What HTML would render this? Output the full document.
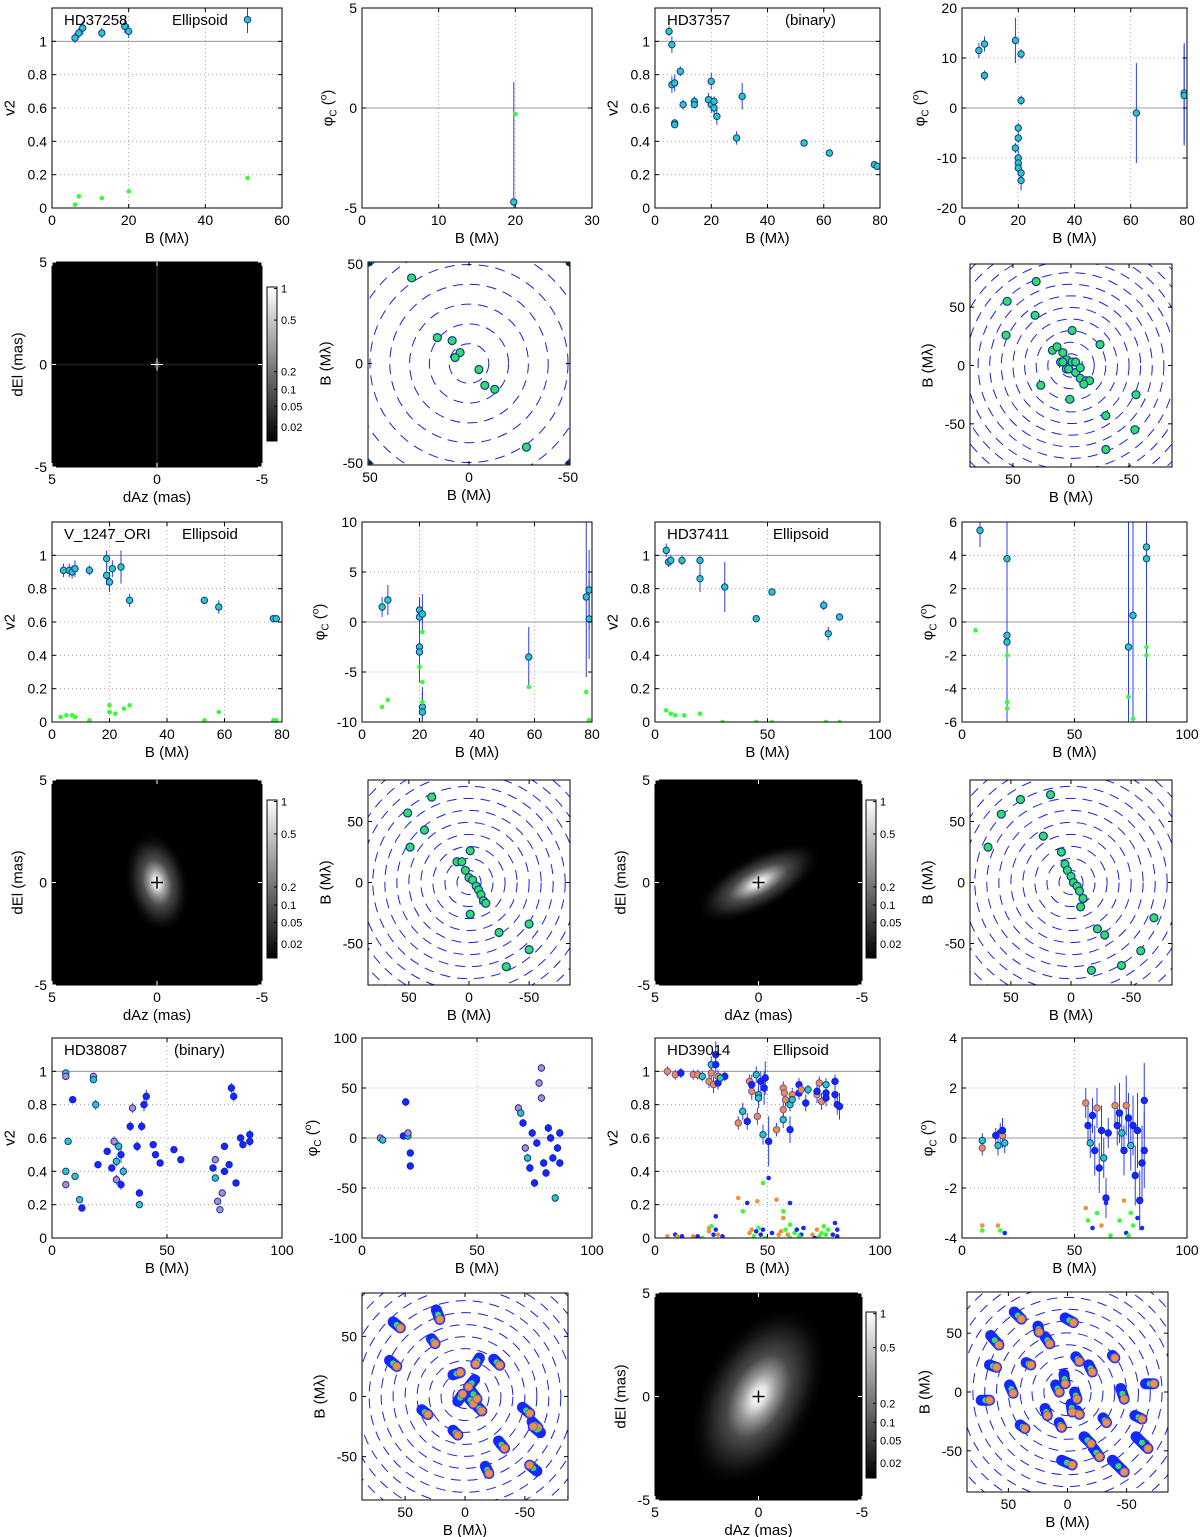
<!DOCTYPE html>
<html><head><meta charset="utf-8"><title>Interferometry panels</title>
<style>
html,body{margin:0;padding:0;background:#fff;}
svg{display:block;font-family:"Liberation Sans",sans-serif;}
</style></head>
<body>
<svg id="fig" width="1200" height="1537" viewBox="0 0 1200 1537" xmlns="http://www.w3.org/2000/svg">
<defs id="defs"></defs>
</svg>
<script>
// ---------- DATA ----------
const hd37258V2 = [[6,1.02,0.03],[7,1.05,0.03],[8,1.08,0.04],[13,1.05,0.03],[19,1.09,0.04],[20,1.06,0.04],[51,1.13,0.08]];
const hd37258V2Low = [[6,0.02],[7,0.07],[13,0.06],[20,0.1],[51,0.18]];
const hd37258Phi = [[19.8,-4.7,6]];
const hd37258PhiLow = [[20,-0.3]];
const hd37258Uv = [[29,43],[16,13],[8.5,11.5],[4.5,5.5],[7,3],[-5,-3],[-8,-11],[-13,-13],[-29,-42],[51,51],[-51,51],[51,-51],[-51,-51]];

const hd37357V2 = [[5,1.06,0.03],[6,0.98,0.05],[6,0.74,0.05],[7,0.75,0.05],[7,0.51,0.02],[7,0.5,0.02],[9,0.82,0.03],[10,0.62,0.03],[14,0.64,0.03],[14,0.62,0.02],[19,0.65,0.04],[20,0.76,0.05],[20,0.62,0.05],[21,0.6,0.05],[21,0.64,0.03],[22,0.55,0.05],[29,0.42,0.04],[31,0.67,0.08],[53,0.39,0.02],[62,0.33,0.02],[78,0.26,0.02],[79,0.25,0.02]];
const hd37357Phi = [[6,11.5,1.5],[8,12.8,1.5],[8,6.5,1],[19,13.5,4.5],[21,10.8,1],[21,1.5,1],[20,-4,1],[20,-6,1],[19,-8,1],[20,-10,1.5],[20,-11,1.5],[20,-12,1.5],[21,-13,2],[21,-14.5,2],[62,-1,10],[79,3,10],[79,2.5,10]];
const hd37357Uv = [[30,72],[55,55],[31,43],[56,26],[-1,30],[-25,18],[26,-17],[1,-29],[-30,-43],[-56,-25],[-55,-55],[-30,-72],[16,13],[12,16],[7,11],[4,5],[9,3],[7,3],[-1,3],[-4,3],[4,-3],[2,-3],[-4,-6],[-8,-2],[-8,-11],[-13,-13],[-16,-13],[-11,-16]];

const v1247V2 = [[4,0.91,0.04],[6,0.91,0.04],[7,0.9,0.04],[8,0.92,0.05],[13,0.91,0.03],[19,0.98,0.05],[19,0.88,0.06],[20,0.84,0.06],[21,0.92,0.05],[24,0.93,0.1],[27,0.73,0.04],[53,0.73,0.02],[58,0.69,0.04],[77,0.62,0.02],[78,0.62,0.02]];
const v1247V2Low = [[3,0.03],[5,0.04],[7,0.04],[8,0.03],[13,0.01],[20,0.1],[20,0.06],[22,0.05],[25,0.08],[27,0.1],[53,0.01],[58,0.06],[77,0.01],[78,0.01]];
const v1247Phi = [[7,1.5,1],[9,2.2,1.5],[20,1.2,1],[20,0.5,2],[20,-2.5,3],[20,-3,3],[21,0.8,2],[21,-8.5,2],[21,-9,2],[58,-3.5,3],[78,2.5,8],[79,3.2,4],[79,0.3,4]];
const v1247PhiLow = [[7,-8.5],[9,-7.8],[20,-4.5],[21,-1],[21,-6],[21,-8],[58,-6.5],[78,-7],[79,-9.8]];
const v1247Uv = [[51,57],[31,70],[37,43],[49,29],[-1,26],[10,17],[6,17],[3,10],[0,4],[-3,2],[-6,-3],[-8,-6],[-10,-10],[-12,-15],[-14,-17],[-1,-26],[-50,-34],[-50,-55],[-31,-69],[-25,-41]];

const hd37411V2 = [[5,1.03,0.04],[6,0.96,0.03],[7,0.97,0.03],[12,0.97,0.03],[20,0.97,0.03],[20,0.86,0.08],[31,0.81,0.15],[45,0.62,0.02],[52,0.78,0.02],[75,0.7,0.03],[77,0.53,0.04],[82,0.63,0.02]];
const hd37411V2Low = [[5,0.07],[7,0.05],[9,0.04],[13,0.04],[20,0.05],[30,0],[45,0],[52,0],[76,0],[82,0]];
const hd37411Phi = [[8,5.5,1],[20,3.8,10],[20,-0.8,5],[20,-1.2,5],[74,-1.5,8],[76,0.4,8],[82,4.5,10],[82,3.8,10]];
const hd37411PhiLow = [[6,-0.5],[20,-2],[20,-4.8],[20,-5.2],[74,-4.5],[76,-5.8],[82,-1.5],[82,-2]];
const hd37411Uv = [[69,29],[42,68],[17,72],[58,56],[23,38],[8,25],[5,15],[3,10],[0,5],[-2,0],[-5,-3],[-7,-7],[-10,-13],[-8,-20],[-28,-43],[-69,-29],[-42,-68],[-17,-72],[-58,-56],[-22,-38]];

const hd38087V2 = [[6,0.99,0.02,0],[6,0.97,0.02,1],[6,0.4,0.02,0],[6,0.32,0.02,1],[7,0.58,0.02,0],[9,0.83,0.02,2],[10,0.37,0.02,0],[12,0.23,0.02,0],[13,0.18,0.02,2],[18,0.97,0.02,1],[18,0.95,0.02,0],[19,0.8,0.03,0],[20,0.44,0.02,2],[24,0.52,0.02,2],[26,0.42,0.02,2],[27,0.58,0.03,1],[28,0.35,0.03,1],[28,0.46,0.03,0],[29,0.55,0.03,0],[30,0.5,0.05,2],[30,0.32,0.03,2],[31,0.4,0.03,0],[34,0.67,0.03,2],[35,0.78,0.03,1],[37,0.55,0.03,2],[38,0.27,0.02,2],[38,0.2,0.02,0],[39,0.67,0.03,2],[40,0.8,0.04,2],[41,0.85,0.04,2],[44,0.56,0.02,2],[45,0.5,0.02,2],[47,0.45,0.02,2],[53,0.53,0.02,2],[56,0.47,0.02,2],[70,0.42,0.02,2],[71,0.47,0.02,1],[71,0.36,0.02,0],[72,0.22,0.02,1],[73,0.17,0.02,1],[74,0.27,0.02,1],[75,0.4,0.02,2],[75,0.55,0.02,2],[77,0.44,0.02,2],[78,0.9,0.03,2],[79,0.85,0.03,2],[80,0.33,0.02,2],[82,0.6,0.02,2],[83,0.56,0.02,2],[86,0.62,0.03,2],[86,0.58,0.03,2]];
const hd38087Phi = [[8,0,2,1],[9,-2,2,0],[18,2,3,2],[19,36,4,2],[20,2,3,0],[21,-15,3,2],[21,-28,3,2],[20,5,3,1],[68,30,4,1],[69,25,4,0],[70,15,4,2],[71,-10,4,1],[72,-20,4,0],[73,-30,4,2],[74,5,4,2],[75,-45,4,2],[76,-5,4,2],[77,55,4,1],[78,70,4,1],[78,40,4,1],[79,-25,4,2],[80,-35,4,2],[81,10,4,2],[82,0,4,2],[83,-20,4,2],[84,-60,4,0],[85,-10,4,2],[86,-25,4,2],[86,5,4,2]];
const hd38087Uv = [[60,62,54,57],[63,30,57,25],[28,48,25,44],[24,72,21,64],[36,-11,31,-15],[10,18,4,20],[10,-28,6,-32],[-8,14,-3,8],[-2,0,-7,-6],[-10,-8,-14,-12],[-4,6,-10,-2],[-24,31,-29,26],[-12,32,-9,27],[-28,-37,-33,-43],[-17,-58,-20,-64],[-48,-9,-54,-14],[-56,-21,-61,-26],[6,-4,2,2],[-60,-62,-54,-57],[-63,-30,-57,-25]];

const hd39014V2 = [[5.5,1.0,0.03,1],[9,0.98,0.03,1],[11.5,0.99,0.03,2],[17,0.98,0.03,1],[19,0.98,0.03,1],[21,0.97,0.03,0],[24,0.94,0.04,1],[25,0.99,0.05,1],[25,1.04,0.05,0],[26,0.92,0.05,1],[27,1.1,0.08,2],[27,1.04,0.05,2],[28,0.93,0.04,2],[28,0.97,0.04,1],[31,0.97,0.03,2],[29,0.96,0.03,0],[37,0.69,0.04,1],[39,0.76,0.05,0],[41,0.70,0.05,2],[42,0.94,0.04,1],[43,0.88,0.05,1],[43,0.92,0.06,2],[45,0.98,0.05,0],[45.5,0.73,0.05,1],[46,0.86,0.06,0],[46,0.84,0.06,0],[47,0.94,0.06,2],[48,0.62,0.06,0],[48.5,0.9,0.1,2],[49,0.96,0.1,2],[50.5,0.58,0.15,2],[54,0.65,0.04,1],[57,0.71,0.05,0],[57,0.77,0.05,1],[57,0.9,0.04,1],[57.5,0.87,0.04,1],[58,0.83,0.04,1],[60,0.65,0.08,2],[60,0.8,0.04,0],[61,0.86,0.04,1],[61,0.83,0.04,0],[64,0.92,0.04,2],[64,0.87,0.04,2],[65,0.89,0.04,1],[68,0.89,0.03,0],[67,0.81,0.05,2],[73,0.93,0.04,1],[72,0.86,0.05,1],[74,0.82,0.05,1],[76,0.92,0.04,0],[76,0.87,0.05,2],[76,0.84,0.05,2],[80,0.94,0.04,2],[80,0.86,0.05,2],[81,0.8,0.06,2],[82,0.79,0.08,2],[72,0.88,0.05,2]];
const hd39014V2Low = [[37,0.24,0],[39,0.16,1],[41,0.21,2],[45.5,0.22,0],[48,0.33,1],[50.5,0.36,2],[54,0.23,0],[57,0.16,1],[57,0.12,0],[60,0.21,2],[60,0.08,1],[27,0.13,2],[5.5,0.01,0],[9,0.02,2],[10,0.01,0],[12,0.01,2],[17,0.01,0],[19,0.01,2],[21,0,1],[24,0.04,0],[24,0.06,0],[25,0.07,1],[26,0.02,2],[27,0.05,2],[28,0.02,0],[30,0.01,2],[42,0.03,0],[43,0.05,0],[44,0.01,1],[45,0.04,2],[46,0.06,1],[47,0.02,2],[48,0.05,2],[49,0,1],[52,0.03,2],[55,0.02,0],[56,0.04,0],[58,0.05,1],[59,0.02,0],[62,0.03,1],[63,0.05,2],[65,0.02,2],[66,0.06,2],[70,0.02,0],[72,0.05,0],[73,0.01,1],[74,0.03,1],[76,0.02,1],[77,0.05,1],[79,0.02,2],[80,0.09,2],[81,0.05,2],[81,0.01,2],[71,0,2],[75,0.07,1],[60,0,1],[64,0.01,1]];
const hd39014Phi = [[9,-0.1,0.3,0],[9,-0.4,0.3,1],[15,0.1,0.3,2],[16,-0.3,0.4,0],[17,0.2,0.4,2],[18,0.1,0.5,1],[18,0.3,0.5,2],[19,-0.2,0.4,0],[55,1.4,0.6,1],[56,0.5,0.8,2],[57,-0.2,0.6,0],[58,0.9,0.7,2],[59,-0.5,1,2],[60,1.2,0.8,1],[61,-1.2,1,2],[62,0.3,1,2],[63,-0.8,0.8,0],[64,-2.4,0.8,2],[65,0.2,0.6,2],[68,1.3,0.8,1],[69,0.5,0.8,2],[70,1.0,1.2,2],[71,0.2,0.8,0],[72,-0.5,1,2],[73,1.3,1.2,1],[74,0.8,1,2],[75,-0.3,1,0],[76,0.5,1.2,2],[77,-1.5,1.2,2],[78,0.3,1.5,2],[79,-2.5,1.2,2],[80,-1,1.5,2],[81,1.5,1.5,2],[81,-0.5,1.5,2]];
const hd39014PhiLow = [[9,-3.5,0],[9,-3.7,1],[16,-3.5,0],[17,-3.7,1],[19,-3.8,2],[55,-2.8,0],[56,-3.3,1],[58,-3.6,2],[60,-3,1],[62,-3.5,0],[64,-2.6,2],[70,-3.3,1],[72,-2.5,0],[73,-3.8,2],[75,-3,1],[76,-3.5,1],[78,-3.2,2],[80,-3.6,2],[74,-3.9,1],[66,-3.9,1]];
const hd39014Uv = [[45,68,39,62],[65,48,58,40],[2,63,-5,59],[19,47,15,41],[25,56,24,51],[49,6,46,-1],[73,-7,66,-7],[66,23,60,21],[35,25,31,23],[40,-28,36,-31],[19,-14,17,-20],[7,-26,5,-30],[10,6,7,0],[3,15,2,7],[-6,0,-8,-6],[-3,-10,-4,-17],[-8,-16,-10,-19],[-7,30,-10,26],[-18,23,-21,17],[-14,-38,-20,-44],[-22,-48,-27,-55],[5,-58,-4,-62],[-38,31,-40,29],[-30,-22,-33,-26],[-45,3,-48,-6],[-66,7,-73,7],[-57,-20,-63,-23],[-58,-38,-68,-48],[-38,-58,-48,-68]];

const cbTicks = [1,0.5,0.2,0.1,0.05,0.02];
const cbTickFrac = [0.01,0.215,0.55,0.665,0.775,0.91];

// ---------- HELPERS ----------
const NS='http://www.w3.org/2000/svg';
const svg=document.getElementById('fig');
const defs=document.getElementById('defs');
let uid=0;
function mk(tag,name,attrs,parent){
  const e=document.createElementNS(NS,tag);
  
  
  for(const k in attrs) e.setAttribute(k,attrs[k]);
  (parent||svg).appendChild(e);
  return e;
}
function txt(name,x,y,s,anchor,parent,size){
  const t=mk('text',name,{x:x,y:y,'text-anchor':anchor||'middle','font-size':size||14,fill:'#000'},parent);
  t.textContent=s; return t;
}
const FILL={cyan:'#2cc8bc',green:'#33dd66',purple:'#b48ad0',orange:'#ec9240',blue:'#1428ff'};
const EDGE='#103a9a';

function axes(name,b,xl,yl,xt,yt,o){
  o=o||{};
  const g=mk('g',name,{});
  const sx=v=>b.x0+(v-xl[0])/(xl[1]-xl[0])*(b.x1-b.x0);
  const sy=v=>b.y1-(v-yl[0])/(yl[1]-yl[0])*(b.y1-b.y0);
  mk('rect','plot-area',{x:b.x0,y:b.y0,width:b.x1-b.x0,height:b.y1-b.y0,fill:o.bg||'#fff'},g);
  const cid='c'+(uid++);
  const cp=mk('clipPath','clip',{id:cid},defs);
  mk('rect','clip-rect',{x:b.x0,y:b.y0,width:b.x1-b.x0,height:b.y1-b.y0},cp);
  if(o.grid){
    xt.forEach(v=>{const x=sx(v); if(Math.abs(x-b.x0)>1&&Math.abs(x-b.x1)>1) mk('line','grid-x',{x1:x,x2:x,y1:b.y0,y2:b.y1,stroke:'#999','stroke-width':0.8,'stroke-dasharray':'1,3'},g);});
    yt.forEach(v=>{const y=sy(v); if(Math.abs(y-b.y0)>1&&Math.abs(y-b.y1)>1) mk('line','grid-y',{x1:b.x0,x2:b.x1,y1:y,y2:y,stroke:'#999','stroke-width':0.8,'stroke-dasharray':'1,3'},g);});
  }
  if(o.ref!==undefined) mk('line','reference-line',{x1:b.x0,x2:b.x1,y1:sy(o.ref),y2:sy(o.ref),stroke:'#999','stroke-width':1},g);
  const data=mk('g','data',{'clip-path':'url(#'+cid+')'},g);
  const front=mk('g','frame',{},g);
  mk('rect','axes-box',{x:b.x0,y:b.y0,width:b.x1-b.x0,height:b.y1-b.y0,fill:'none',stroke:'#000','stroke-width':1},front);
  const tc=o.tickColor||'#000';
  xt.forEach(v=>{const x=sx(v);
    mk('line','x-tick',{x1:x,x2:x,y1:b.y1,y2:b.y1-4,stroke:tc},front);
    mk('line','x-tick',{x1:x,x2:x,y1:b.y0,y2:b.y0+4,stroke:tc},front);
    txt('x-tick-label',x,b.y1+17,String(v),'middle',front);});
  let maxw=0;
  yt.forEach(v=>{const y=sy(v);
    mk('line','y-tick',{x1:b.x0,x2:b.x0+4,y1:y,y2:y,stroke:tc},front);
    mk('line','y-tick',{x1:b.x1,x2:b.x1-4,y1:y,y2:y,stroke:tc},front);
    const s=String(v); maxw=Math.max(maxw,s.length*7.8);
    txt('y-tick-label',b.x0-5,y+5,s,'end',front);});
  txt('x-axis-title',(b.x0+b.x1)/2,b.y1+35,o.xlabel||'B (Mλ)','middle',front,15);
  const yx=b.x0-maxw-14, yy=(b.y0+b.y1)/2;
  const t=mk('text','y-axis-title',{x:yx,y:yy,'text-anchor':'middle','font-size':15,transform:'rotate(-90 '+yx+' '+yy+')'},front);
  if(o.ylabel==='phi'){
    const a=mk('tspan','phi-symbol',{},t); a.textContent='φ';
    const s1=mk('tspan','phi-subscript',{'font-size':10,dy:4},t); s1.textContent='C';
    const s2=mk('tspan','phi-paren',{dy:-4},t); s2.textContent=' (';
    const s3=mk('tspan','phi-degree',{'font-size':10,dy:-6},t); s3.textContent='o';
    const s4=mk('tspan','phi-paren-close',{dy:6},t); s4.textContent=')';
  } else t.textContent=o.ylabel||'v2';
  if(o.title){
    txt('star-name',b.x0+12,b.y0+17,o.title,'start',front,15);
    txt('model-name',b.x0+o.modelX,b.y0+17,o.model,'start',front,15);
  }
  return {g:data,sx,sy,b};
}
function errPts(ax,arr,name,fillFn){
  arr.forEach(p=>{
    mk('line',name+'-errorbar',{x1:ax.sx(p[0]),x2:ax.sx(p[0]),y1:ax.sy(p[1]-p[2]),y2:ax.sy(p[1]+p[2]),stroke:'#2a3cf0','stroke-width':1},ax.g);});
  arr.forEach(p=>{
    const f=fillFn?fillFn(p):FILL.cyan;
    mk('circle',name+'-point',{cx:ax.sx(p[0]),cy:ax.sy(p[1]),r:3.2,fill:f,stroke:f===FILL.blue?'#1020d0':(f===FILL.orange?'#7a50a8':EDGE),'stroke-width':1},ax.g);});
}
function dots(ax,arr,name,colFn){
  arr.forEach(p=>{mk('circle',name,{cx:ax.sx(p[0]),cy:ax.sy(p[1]),r:2.3,fill:colFn?colFn(p):'#33ff33'},ax.g);});
}
function uvRings(ax,lim){
  const cx=ax.sx(0),cy=ax.sy(0),k=Math.abs(ax.sx(10)-cx);
  for(let r=1;r<=13;r++) mk('circle','uv-ring',{cx:cx,cy:cy,r:r*k,fill:'none',stroke:'#1a22d8','stroke-width':1,'stroke-dasharray':'10,7'},ax.g);
}
function uvAxes(name,b,lim,ticks){
  const ax=axes(name,b,[lim,-lim],[-lim,lim],ticks,ticks,{ylabel:'B (Mλ)'});
  uvRings(ax,lim); return ax;
}
function uvPts(ax,arr,name){
  arr.forEach(p=>mk('circle',name,{cx:ax.sx(p[0]),cy:ax.sy(p[1]),r:4,fill:FILL.green,stroke:EDGE,'stroke-width':1.2},ax.g));
}
function uvTracks(ax,arr,name){
  arr.forEach(p=>mk('line',name+'-track',{x1:ax.sx(p[0]),y1:ax.sy(p[1]),x2:ax.sx(p[2]),y2:ax.sy(p[3]),stroke:'#1428ff','stroke-width':11,'stroke-linecap':'round'},ax.g));
  arr.forEach(p=>{
    mk('circle',name+'-green',{cx:ax.sx((p[0]+p[2])/2),cy:ax.sy((p[1]+p[3])/2),r:3,fill:FILL.green},ax.g);
    mk('circle',name+'-orange',{cx:ax.sx(p[2]),cy:ax.sy(p[3]),r:4,fill:FILL.orange,stroke:'#8a60b0','stroke-width':1},ax.g);});
}
function imagePanel(name,b,cb,blob){
  const ax=axes(name,b,[5,-5],[-5,5],[5,0,-5],[5,0,-5],{bg:'#000',xlabel:'dAz (mas)',ylabel:'dEl (mas)',tickColor:'#fff'});
  const gid='g'+(uid++);
  const cx=ax.sx(0),cy=ax.sy(0);
  const rg=mk('radialGradient','blob-gradient',{id:gid,cx:0,cy:0,r:1,gradientUnits:'userSpaceOnUse',gradientTransform:'translate('+cx+' '+cy+') rotate('+blob.rot+') scale('+blob.rx+' '+blob.ry+')'},defs);
  [[0,'#fff',1],[0.1,'#e8e8e8',1],[0.25,'#9a9a9a',1],[0.45,'#4a4a4a',1],[0.7,'#1e1e1e',1],[1,'#000',0]].forEach(s=>mk('stop','gradient-stop',{offset:s[0],'stop-color':s[1],'stop-opacity':s[2]},rg));
  mk('rect','brightness-map',{x:b.x0,y:b.y0,width:b.x1-b.x0,height:b.y1-b.y0,fill:'url(#'+gid+')'},ax.g);
  if(blob.cross){
    mk('line','psf-streak',{x1:cx,x2:cx,y1:b.y0,y2:b.y1,stroke:'#181818','stroke-width':2},ax.g);
    mk('line','psf-streak',{x1:b.x0,x2:b.x1,y1:cy,y2:cy,stroke:'#181818','stroke-width':2},ax.g);
  }
  mk('line','center-cross',{x1:cx-6,x2:cx+6,y1:cy,y2:cy,stroke:'#000','stroke-width':1.5},ax.g);
  mk('line','center-cross',{x1:cx,x2:cx,y1:cy-6,y2:cy+6,stroke:'#000','stroke-width':1.5},ax.g);
  if(blob.cross){
    mk('line','center-cross',{x1:cx-6,x2:cx+6,y1:cy,y2:cy,stroke:'#fff','stroke-width':1},ax.g);
    mk('line','center-cross',{x1:cx,x2:cx,y1:cy-6,y2:cy+6,stroke:'#fff','stroke-width':1},ax.g);
  }
  const lid='l'+(uid++);
  const lg=mk('linearGradient','colorbar-gradient',{id:lid,x1:0,y1:0,x2:0,y2:1},defs);
  mk('stop','gradient-stop',{offset:0,'stop-color':'#fff'},lg);
  mk('stop','gradient-stop',{offset:1,'stop-color':'#000'},lg);
  const cg=mk('g','colorbar',{});
  mk('rect','colorbar-fill',{x:cb.x,y:cb.y0,width:10,height:cb.y1-cb.y0,fill:'url(#'+lid+')',stroke:'#000','stroke-width':1},cg);
  cbTicks.forEach((v,i)=>{const y=cb.y0+cbTickFrac[i]*(cb.y1-cb.y0);
    mk('line','colorbar-tick',{x1:cb.x+10,x2:cb.x+7,y1:y,y2:y,stroke:'#000'},cg);
    txt('colorbar-tick-label',cb.x+14,y+4,String(v),'start',cg,11);});
}
const cyanF=()=>FILL.cyan;
const c3=p=>[FILL.cyan,FILL.purple,FILL.blue][p[3]];
const c39=p=>[FILL.cyan,FILL.orange,FILL.blue][p[3]];
const d39=p=>[FILL.orange,'#33ff33',FILL.blue][p[2]];

// ---------- ROW 1 ----------
let a;
a=axes('hd37258-v2',{x0:52,x1:282,y0:8,y1:208},[0,60],[0,1.2],[0,20,40,60],[0,0.2,0.4,0.6,0.8,1],{grid:1,ref:1,title:'HD37258',model:'Ellipsoid',modelX:120});
dots(a,hd37258V2Low,'v2-model-dot'); errPts(a,hd37258V2,'v2',cyanF);
a=axes('hd37258-phase',{x0:362,x1:592,y0:8,y1:208},[0,30],[-5,5],[0,10,20,30],[-5,0,5],{grid:1,ref:0,ylabel:'phi'});
errPts(a,hd37258Phi,'phase',cyanF); dots(a,hd37258PhiLow,'phase-model-dot');
a=axes('hd37357-v2',{x0:655,x1:880,y0:8,y1:208},[0,80],[0,1.2],[0,20,40,60,80],[0,0.2,0.4,0.6,0.8,1],{grid:1,ref:1,title:'HD37357',model:'(binary)',modelX:130});
errPts(a,hd37357V2,'v2',cyanF);
a=axes('hd37357-phase',{x0:962,x1:1187,y0:8,y1:208},[0,80],[-20,20],[0,20,40,60,80],[-20,-10,0,10,20],{grid:1,ref:0,ylabel:'phi'});
errPts(a,hd37357Phi,'phase',cyanF);
// ---------- ROW 2 ----------
imagePanel('hd37258-image',{x0:52,x1:262,y0:262,y1:467},{x:267,y0:287,y1:441},{rx:5,ry:5,rot:0,cross:1});
a=uvAxes('hd37258-uv',{x0:368,x1:570,y0:262,y1:465},51,[50,0,-50]); uvPts(a,hd37258Uv,'uv-point');
a=uvAxes('hd37357-uv',{x0:970,x1:1172,y0:264,y1:467},87,[50,0,-50]); uvPts(a,hd37357Uv,'uv-point');
// ---------- ROW 3 ----------
a=axes('v1247-v2',{x0:52,x1:282,y0:522,y1:722},[0,80],[0,1.2],[0,20,40,60,80],[0,0.2,0.4,0.6,0.8,1],{grid:1,ref:1,title:'V_1247_ORI',model:'Ellipsoid',modelX:130});
dots(a,v1247V2Low,'v2-model-dot'); errPts(a,v1247V2,'v2',cyanF);
a=axes('v1247-phase',{x0:362,x1:592,y0:522,y1:722},[0,80],[-10,10],[0,20,40,60,80],[-10,-5,0,5,10],{grid:1,ref:0,ylabel:'phi'});
errPts(a,v1247Phi,'phase',cyanF); dots(a,v1247PhiLow,'phase-model-dot');
a=axes('hd37411-v2',{x0:655,x1:880,y0:522,y1:722},[0,100],[0,1.2],[0,50,100],[0,0.2,0.4,0.6,0.8,1],{grid:1,ref:1,title:'HD37411',model:'Ellipsoid',modelX:118});
dots(a,hd37411V2Low,'v2-model-dot'); errPts(a,hd37411V2,'v2',cyanF);
a=axes('hd37411-phase',{x0:962,x1:1187,y0:522,y1:722},[0,100],[-6,6],[0,50,100],[-6,-4,-2,0,2,4,6],{grid:1,ref:0,ylabel:'phi'});
errPts(a,hd37411Phi,'phase',cyanF); dots(a,hd37411PhiLow,'phase-model-dot');
// ---------- ROW 4 ----------
imagePanel('v1247-image',{x0:52,x1:262,y0:780,y1:985},{x:267,y0:800,y1:958},{rx:32,ry:52,rot:-12});
a=uvAxes('v1247-uv',{x0:368,x1:570,y0:780,y1:985},84,[50,0,-50]); uvPts(a,v1247Uv,'uv-point');
imagePanel('hd37411-image',{x0:655,x1:862,y0:780,y1:985},{x:866,y0:800,y1:958},{rx:70,ry:28,rot:-28});
a=uvAxes('hd37411-uv',{x0:970,x1:1172,y0:780,y1:985},84,[50,0,-50]); uvPts(a,hd37411Uv,'uv-point');
// ---------- ROW 5 ----------
a=axes('hd38087-v2',{x0:52,x1:282,y0:1038,y1:1238},[0,100],[0,1.2],[0,50,100],[0,0.2,0.4,0.6,0.8,1],{grid:1,ref:1,title:'HD38087',model:'(binary)',modelX:122});
errPts(a,hd38087V2,'v2',c3);
a=axes('hd38087-phase',{x0:362,x1:592,y0:1038,y1:1238},[0,100],[-100,100],[0,50,100],[-100,-50,0,50,100],{grid:1,ref:0,ylabel:'phi'});
errPts(a,hd38087Phi,'phase',c3);
a=axes('hd39014-v2',{x0:655,x1:880,y0:1038,y1:1238},[0,100],[0,1.2],[0,50,100],[0,0.2,0.4,0.6,0.8,1],{grid:1,ref:1,title:'HD39014',model:'Ellipsoid',modelX:118});
dots(a,hd39014V2Low,'v2-model-dot',d39); errPts(a,hd39014V2,'v2',c39);
a=axes('hd39014-phase',{x0:962,x1:1187,y0:1038,y1:1238},[0,100],[-4,4],[0,50,100],[-4,-2,0,2,4],{grid:1,ref:0,ylabel:'phi'});
dots(a,hd39014PhiLow,'phase-model-dot',d39); errPts(a,hd39014Phi,'phase',c39);
// ---------- ROW 6 ----------
a=uvAxes('hd38087-uv',{x0:362,x1:568,y0:1293,y1:1500},86,[50,0,-50]); uvTracks(a,hd38087Uv,'uv');
imagePanel('hd39014-image',{x0:655,x1:862,y0:1293,y1:1500},{x:866,y0:1312,y1:1478},{rx:100,ry:58,rot:-62});
a=uvAxes('hd39014-uv',{x0:967,x1:1168,y0:1292,y1:1492},85,[50,0,-50]); uvTracks(a,hd39014Uv,'uv');
</script>
</body></html>
